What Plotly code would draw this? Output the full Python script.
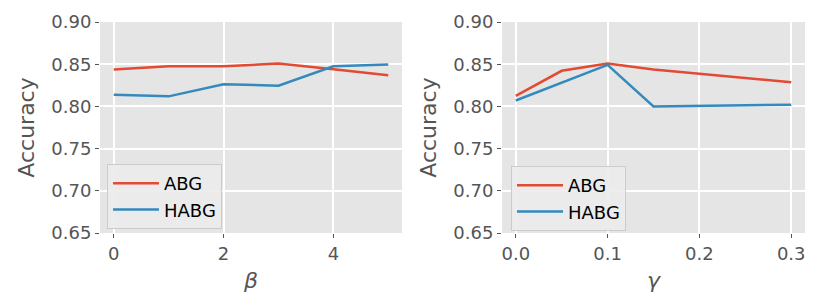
import plotly.graph_objects as go

beta = [0, 1, 2, 3, 4, 5]
abg_beta = [0.8437, 0.8476, 0.8476, 0.8508, 0.8440, 0.8369]
habg_beta = [0.8139, 0.8119, 0.8262, 0.8246, 0.8476, 0.8496]

gamma = [0.0, 0.05, 0.1, 0.15, 0.3]
abg_gamma = [0.8125, 0.8422, 0.8508, 0.8438, 0.8285]
habg_gamma = [0.8070, 0.8285, 0.8492, 0.8000, 0.8020]

RED = "#E24A33"
BLUE = "#348ABD"
TXT = "#555555"
FONT = "DejaVu Sans"
W, H, OFF = 830, 299, 8  # page body margin offset


def px(v):
    return (v - OFF) / W


def py(v):
    return 1 - (v - OFF) / H


fig = go.Figure()
fig.add_trace(go.Scatter(x=beta, y=abg_beta, mode="lines", name="ABG",
                         line=dict(color=RED, width=2.5), xaxis="x", yaxis="y", legend="legend"))
fig.add_trace(go.Scatter(x=beta, y=habg_beta, mode="lines", name="HABG",
                         line=dict(color=BLUE, width=2.5), xaxis="x", yaxis="y", legend="legend"))
fig.add_trace(go.Scatter(x=gamma, y=abg_gamma, mode="lines", name="ABG",
                         line=dict(color=RED, width=2.5), xaxis="x2", yaxis="y2", legend="legend2"))
fig.add_trace(go.Scatter(x=gamma, y=habg_gamma, mode="lines", name="HABG",
                         line=dict(color=BLUE, width=2.5), xaxis="x2", yaxis="y2", legend="legend2"))

ydom = [py(233), py(22)]
common_axis = dict(showgrid=True, gridcolor="white", gridwidth=1.5, zeroline=False,
                   showline=False, ticks="outside", ticklen=4, tickcolor=TXT, automargin=False,
                   tickfont=dict(family=FONT, size=18, color=TXT))
tfont = dict(family=FONT, size=22, color=TXT)
legend_common = dict(xanchor="left", yanchor="top", itemwidth=46,
                     bgcolor="rgba(235,235,235,0.9)", bordercolor="#CCCCCC", borderwidth=1,
                     font=dict(family=FONT, size=18, color="black"))

fig.update_layout(
    width=W, height=H,
    margin=dict(l=0, r=0, t=0, b=0, autoexpand=False),
    paper_bgcolor="white", plot_bgcolor="#E5E5E5",
    font=dict(family=FONT, color=TXT),
    xaxis=dict(domain=[px(100), px(402)], range=[-0.25, 5.25], tickvals=[0, 2, 4],
               title=dict(text="<i>β</i>", font=tfont, standoff=10),
               anchor="y", **common_axis),
    yaxis=dict(domain=ydom, range=[0.65, 0.90], dtick=0.05, tickformat=".2f",
               title=dict(text="Accuracy", font=tfont, standoff=10),
               anchor="x", **common_axis),
    xaxis2=dict(domain=[px(502), px(805)], range=[-0.015, 0.315], tickvals=[0.0, 0.1, 0.2, 0.3],
                tickformat=".1f",
                title=dict(text="<i>γ</i>", font=tfont, standoff=10),
                anchor="y2", **common_axis),
    yaxis2=dict(domain=ydom, range=[0.65, 0.90], dtick=0.05, tickformat=".2f",
                title=dict(text="Accuracy", font=tfont, standoff=10),
                anchor="x2", **common_axis),
    legend=dict(x=px(107), y=py(164), **legend_common),
    legend2=dict(x=px(511), y=py(166), **legend_common),
)

fig.write_html("out.html")
